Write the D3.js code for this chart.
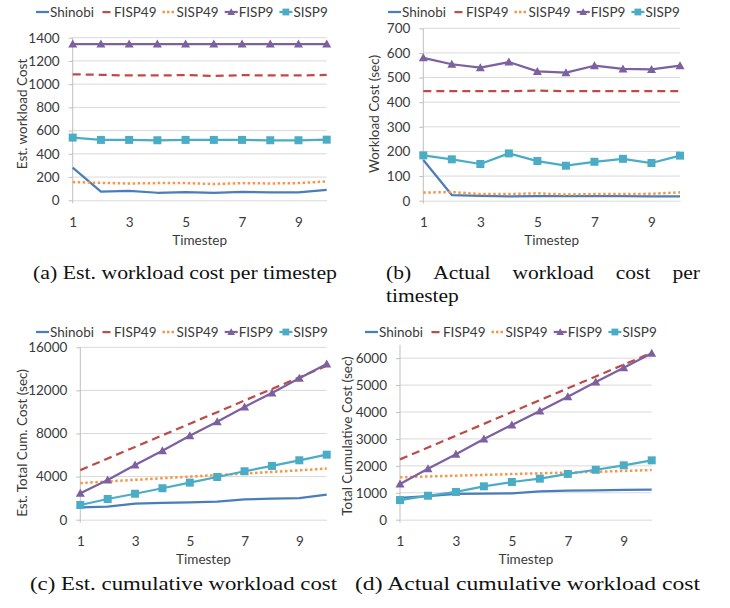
<!DOCTYPE html>
<html>
<head>
<meta charset="utf-8">
<script src="https://cdn.jsdelivr.net/npm/d3@7"></script>
<style>
  body { margin: 0; background: #fff; }
  svg text { font-family: Lato, "Liberation Sans", sans-serif; fill: #3a3a3a; }
  .caption { font-family: "Liberation Serif", "DejaVu Serif", serif; fill: #111; }
</style>
</head>
<body>
<script>
// data
const timesteps = [1, 2, 3, 4, 5, 6, 7, 8, 9, 10];
const seriesNames = ["Shinobi", "FISP49", "SISP49", "FISP9", "SISP9"];

// (a) estimated workload cost per timestep
const estShinobi = [281, 74, 82, 65, 70, 65, 72, 68, 68, 90];
const estFISP49 = [1085, 1080, 1075, 1075, 1078, 1070, 1078, 1075, 1075, 1080];
const estSISP49 = [157, 150, 145, 148, 148, 140, 148, 145, 148, 162];
const estFISP9 = [1345, 1345, 1345, 1345, 1345, 1345, 1345, 1345, 1345, 1345];
const estSISP9 = [540, 520, 520, 517, 520, 520, 520, 517, 517, 522];

// (b) actual workload cost per timestep (sec)
const actShinobi = [165, 23, 20, 18, 19, 19, 19, 19, 18, 18];
const actFISP49 = [445, 445, 445, 445, 447, 445, 445, 445, 445, 445];
const actSISP49 = [33, 35, 27, 27, 30, 25, 27, 27, 28, 34];
const actFISP9 = [580, 554, 540, 563, 525, 520, 548, 535, 533, 548];
const actSISP9 = [184, 168, 149, 192, 161, 142, 158, 170, 153, 183];

// (c) estimated cumulative cost (sec)
const cumEstShinobi = [1150, 1205, 1485, 1550, 1615, 1670, 1895, 1950, 2010, 2320];
const cumEstFISP49 = [4600, 5680, 6755, 7830, 8910, 9980, 11060, 12135, 13210, 14290];
const cumEstSISP49 = [3400, 3550, 3700, 3850, 4000, 4140, 4290, 4435, 4585, 4745];
const cumEstFISP9 = [2450, 3690, 5080, 6410, 7800, 9100, 10470, 11770, 13130, 14460];
const cumEstSISP9 = [1365, 1920, 2410, 2920, 3440, 3965, 4495, 4990, 5515, 6035];

// (d) actual cumulative cost (sec)
const cumActShinobi = [815, 880, 955, 965, 980, 1055, 1080, 1090, 1110, 1115];
const cumActFISP49 = [2240, 2680, 3120, 3560, 4000, 4440, 4880, 5320, 5760, 6200];
const cumActSISP49 = [1575, 1605, 1635, 1665, 1695, 1725, 1750, 1780, 1810, 1845];
const cumActFISP9 = [1325, 1895, 2430, 3000, 3520, 4040, 4570, 5115, 5645, 6180];
const cumActSISP9 = [730, 890, 1030, 1240, 1400, 1525, 1700, 1855, 2020, 2205];

const xTickLabels = [1, 3, 5, 7, 9];
const yTicksA = [0, 200, 400, 600, 800, 1000, 1200, 1400];
const yTicksB = [0, 100, 200, 300, 400, 500, 600, 700];
const yTicksC = [0, 4000, 8000, 12000, 16000];
const yTicksD = [0, 1000, 2000, 3000, 4000, 5000, 6000];

const yTitles = ["Est. workload Cost", "Workload Cost (sec)", "Est. Total Cum. Cost (sec)", "Total Cumulative Cost (sec)"];
const xTitle = "Timestep";

const w = 730, h = 608;

const svg = d3.select("body")
  .append("svg")
  .attr("width", w)
  .attr("height", h);

const styles = {
  Shinobi: { color: "#4A7EBB", dash: null, legDash: null, marker: null },
  FISP49: { color: "#BE4B48", dash: "8,5", legDash: "0,2.5,8,2.5", marker: null },
  SISP49: { color: "#F79646", dash: "2.5,2.5", legDash: "2.5,2", marker: null },
  FISP9: { color: "#7D60A0", dash: null, legDash: null, marker: "triangle" },
  SISP9: { color: "#4BACC6", dash: null, legDash: null, marker: "square" }
};

// layout of each panel (pixel positions)
const panels = [
  { series: [estShinobi, estFISP49, estSISP49, estFISP9, estSISP9], yMax: 1400, yTicks: yTicksA, title: yTitles[0],
    x0: 72.7, x1: 326.7, y0: 200.3, y1: 37.7, legX: 36, legY: 12, titleX: 22, titleY: 114, xLabY: 244.5 },
  { series: [actShinobi, actFISP49, actSISP49, actFISP9, actSISP9], yMax: 700, yTicks: yTicksB, title: yTitles[1],
    x0: 423.3, x1: 680, y0: 200.7, y1: 28.3, legX: 388, legY: 12, titleX: 374, titleY: 114, xLabY: 244.5 },
  { series: [cumEstShinobi, cumEstFISP49, cumEstSISP49, cumEstFISP9, cumEstSISP9], yMax: 16000, yTicks: yTicksC, title: yTitles[2],
    x0: 80.3, x1: 326.7, y0: 519.7, y1: 347.3, legX: 36, legY: 332, titleX: 22, titleY: 443, xLabY: 564 },
  { series: [cumActShinobi, cumActFISP49, cumActSISP49, cumActFISP9, cumActSISP9], yMax: 6500, yTicks: yTicksD, title: yTitles[3],
    x0: 400, x1: 651.7, y0: 519.7, y1: 344.7, legX: 365, legY: 332, titleX: 347, titleY: 436, xLabY: 564 }
];

function marker(sel, type, color) {
  if (type == "triangle") {
    sel.append("path").attr("d", "M0,-4.5L4.5,3.5L-4.5,3.5Z").attr("fill", color);
  } else if (type == "square") {
    sel.append("rect").attr("x", -4).attr("y", -4).attr("width", 8).attr("height", 8).attr("fill", color);
  }
}

panels.forEach(p => {
  let g = svg.append("g");

  let x = d3.scaleLinear().domain([1, 10]).range([p.x0, p.x1]);
  let y = d3.scaleLinear().domain([0, p.yMax]).range([p.y0, p.y1]);

  // gridlines
  g.selectAll(".grid")
    .data(p.yTicks.filter(d => d > 0))
    .enter()
    .append("line")
    .attr("x1", p.x0)
    .attr("x2", p.x1)
    .attr("y1", d => y(d))
    .attr("y2", d => y(d))
    .attr("stroke", "#D9D9D9")
    .attr("stroke-width", 1);

  // y axis
  let yAxis = d3.axisLeft(y).tickValues(p.yTicks).tickFormat(d3.format("d"))
    .tickSize(4).tickSizeOuter(0).tickPadding(9);
  let ya = g.append("g")
    .attr("transform", "translate(" + p.x0 + ",0)")
    .call(yAxis);
  ya.select(".domain").remove();
  ya.append("line").attr("y1", p.y1).attr("y2", p.y0 + 3).attr("stroke", "#BFBFBF");
  ya.selectAll(".tick line").attr("stroke", "#BFBFBF");
  ya.selectAll("text").style("font-size", "13.5px").attr("fill", "#3a3a3a");

  // x axis
  let xAxis = d3.axisBottom(x).tickValues(xTickLabels).tickSize(0).tickSizeOuter(0).tickPadding(17);
  let xa = g.append("g")
    .attr("transform", "translate(0," + p.y0 + ")")
    .call(xAxis);
  xa.select(".domain").attr("stroke", "#D9D9D9");
  xa.selectAll("text").style("font-size", "13.5px").attr("fill", "#3a3a3a");

  // titles
  g.append("text")
    .attr("x", (p.x0 + p.x1) / 2)
    .attr("y", p.xLabY)
    .attr("text-anchor", "middle")
    .style("font-size", "13.5px")
    .text(xTitle);

  g.append("text")
    .attr("transform", "translate(" + p.titleX + "," + p.titleY + ") rotate(-90)")
    .attr("text-anchor", "middle")
    .attr("dominant-baseline", "central")
    .style("font-size", "13.5px")
    .text(p.title);

  // lines
  let line = d3.line().x((d, i) => x(timesteps[i])).y(d => y(d));
  seriesNames.forEach((name, k) => {
    let s = styles[name];
    g.append("path")
      .datum(p.series[k])
      .attr("d", line)
      .attr("fill", "none")
      .attr("stroke", s.color)
      .attr("stroke-width", s.dash == "2.5,2.5" ? 2.5 : 2.25)
      .attr("stroke-dasharray", s.dash)
      .attr("stroke-linejoin", "round");
    if (s.marker) {
      g.selectAll(".m" + name)
        .data(p.series[k])
        .enter()
        .append("g")
        .attr("transform", (d, i) => "translate(" + x(timesteps[i]) + "," + y(d) + ")")
        .each(function() { marker(d3.select(this), s.marker, s.color); });
    }
  });

  // legend
  let lx = p.legX;
  seriesNames.forEach(name => {
    let s = styles[name];
    let lg = g.append("g").attr("transform", "translate(" + lx + "," + p.legY + ")");
    lg.append("line")
      .attr("x1", 0).attr("x2", 13)
      .attr("stroke", s.color)
      .attr("stroke-width", s.dash == "2.5,2.5" ? 2.5 : 2.25)
      .attr("stroke-dasharray", s.legDash);
    if (s.marker) {
      let mg = lg.append("g").attr("transform", "translate(6.5,0) scale(0.85)");
      marker(mg, s.marker, s.color);
    }
    let t = lg.append("text")
      .attr("x", 14)
      .attr("dominant-baseline", "central")
      .style("font-size", "13.5px")
      .text(name);
    lx += 14 + t.node().getComputedTextLength() + 6;
  });
});

// captions
function caption(txt, x, y, len) {
  let t = svg.append("text")
    .attr("class", "caption")
    .attr("transform", "translate(" + x + "," + y + ") scale(1,0.87)")
    .style("font-size", "21.5px")
    .text(txt);
  if (len) t.attr("textLength", len).attr("lengthAdjust", "spacingAndGlyphs");
  return t;
}

caption("(a) Est. workload cost per timestep", 33, 279, 304);
// (b) is justified over two lines
let words = ["(b)", "Actual", "workload", "cost", "per"];
let wg = words.map(wd => caption(wd, 0, 279));
let widths = wg.map(t => t.node().getComputedTextLength());
let gap = (700 - 386 - d3.sum(widths)) / (words.length - 1);
let cx = 386;
wg.forEach((t, i) => {
  t.attr("transform", "translate(" + cx + ",279) scale(1,0.87)");
  cx += widths[i] + gap;
});
caption("timestep", 386, 302);
caption("(c) Est. cumulative workload cost", 30, 590, 307);
caption("(d) Actual cumulative workload cost", 355, 590, 345);
</script>
</body>
</html>
